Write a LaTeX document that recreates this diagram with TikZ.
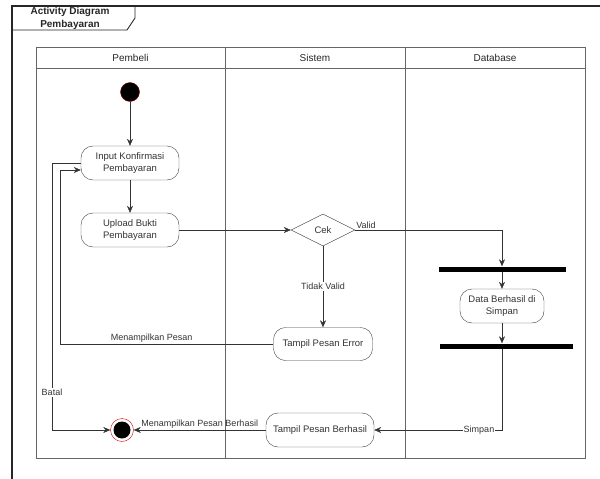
\documentclass[tikz,border=0pt]{standalone}
\usepackage{fontspec}
\setmainfont{Liberation Sans}
\usepackage{tikz}
\usetikzlibrary{shapes.geometric,arrows.meta}
\tikzstyle{act} = [draw=black!75, rounded corners=12pt, align=center, text=black!80, font={\fontsize{9.5}{12.5}\selectfont}, minimum height=34pt, inner sep=2pt]
\tikzstyle{decision} = [diamond, aspect=2, draw=black!75, minimum width=64pt, minimum height=32pt, inner sep=0pt, text=black!80, font={\fontsize{9.5}{12.5}\selectfont}]
\tikzstyle{startnode} = [circle, fill=black, draw=red!60!black, minimum size=19pt, inner sep=0pt]
\tikzstyle{endnode} = [circle, draw=red!85!black, fill=white, minimum size=23pt, inner sep=0pt]
\tikzstyle{bar} = [fill=black, inner sep=0pt, minimum height=5pt]
\tikzstyle{flow} = [draw=black!80, -{Stealth[length=7pt,width=6pt]}]
\tikzstyle{lbl} = [text=black!80, inner sep=1pt, font={\fontsize{9}{10}\selectfont}]
\tikzstyle{lane} = [draw=black!60, line width=0.8pt]
\tikzstyle{lanehead} = [text=black!85, font={\fontsize{10}{12}\selectfont}]

\begin{document}
\begin{tikzpicture}[x=1pt,y=-1pt]
        \useasboundingbox (0,0) rectangle (600,479);
        % frame and title tab
        \draw[black!85, line width=1.2pt] (12,479) -- (12,6) -- (600,6);
        \draw[black!85, line width=0.9pt] (12,30) -- (127,30) -- (135,18) -- (135,6);
        \node[align=center, font={\bfseries\fontsize{10}{13}\selectfont}, text=black!85](title) at (70,18.5){Activity Diagram\\Pembayaran};
        % swimlanes
        \draw[lane] (36,47) rectangle (585,458);
        \draw[lane] (36,68) -- (585,68);
        \draw[lane] (225,47) -- (225,458);
        \draw[lane] (405,47) -- (405,458);
        \node[lanehead](pembeli) at (130.5,58){Pembeli};
        \node[lanehead](sistem) at (315,58){Sistem};
        \node[lanehead](database) at (495,58){Database};
        % nodes
        \node[startnode](start) at (130,92){};
        \node[act, minimum width=98pt](input) at (130,163){Input Konfirmasi\\Pembayaran};
        \node[act, minimum width=98pt](upload) at (130,230){Upload Bukti\\Pembayaran};
        \node[decision](cek) at (323,230){Cek};
        \node[bar, minimum width=127pt](fork1) at (502,269){};
        \node[act, minimum width=84pt](data) at (502,306){Data Berhasil di\\Simpan};
        \node[bar, minimum width=133pt](fork2) at (506.5,346){};
        \node[act, minimum width=99pt, minimum height=33pt](error) at (323,344){Tampil Pesan Error};
        \node[act, minimum width=108pt](berhasil) at (320,430){Tampil Pesan Berhasil};
        \node[endnode](final) at (122,430){};
        \fill (final) circle (8.5pt);
        \coordinate (loopturn) at (60,344);
        \coordinate (batalturn) at (52,163);
        % flows
        \draw[flow](start)--(input);
        \draw[flow](input)--(upload);
        \draw[flow](upload)--(cek);
        \draw[flow](cek) -| node[lbl, pos=0, above right]{Valid} (fork1);
        \draw[flow](fork1)--(data);
        \draw[flow](data)--(data.south |- fork2.north);
        \draw[flow](data.south |- fork2.south) |- node[lbl, fill=white, pos=0.59]{Simpan} (berhasil);
        \draw[flow](cek) -- node[lbl, fill=white]{Tidak Valid} (error);
        \draw[flow](error) -- node[lbl, above, pos=0.57]{Menampilkan Pesan} (loopturn) |- ([yshift=-7pt]input.west);
        \draw[flow](input) -- (batalturn) |- node[lbl, fill=white, pos=0.43]{Batal} (final);
        \draw[flow](berhasil) -- node[lbl, above]{Menampilkan Pesan Berhasil} (final);
      \end{tikzpicture}
\end{document}
